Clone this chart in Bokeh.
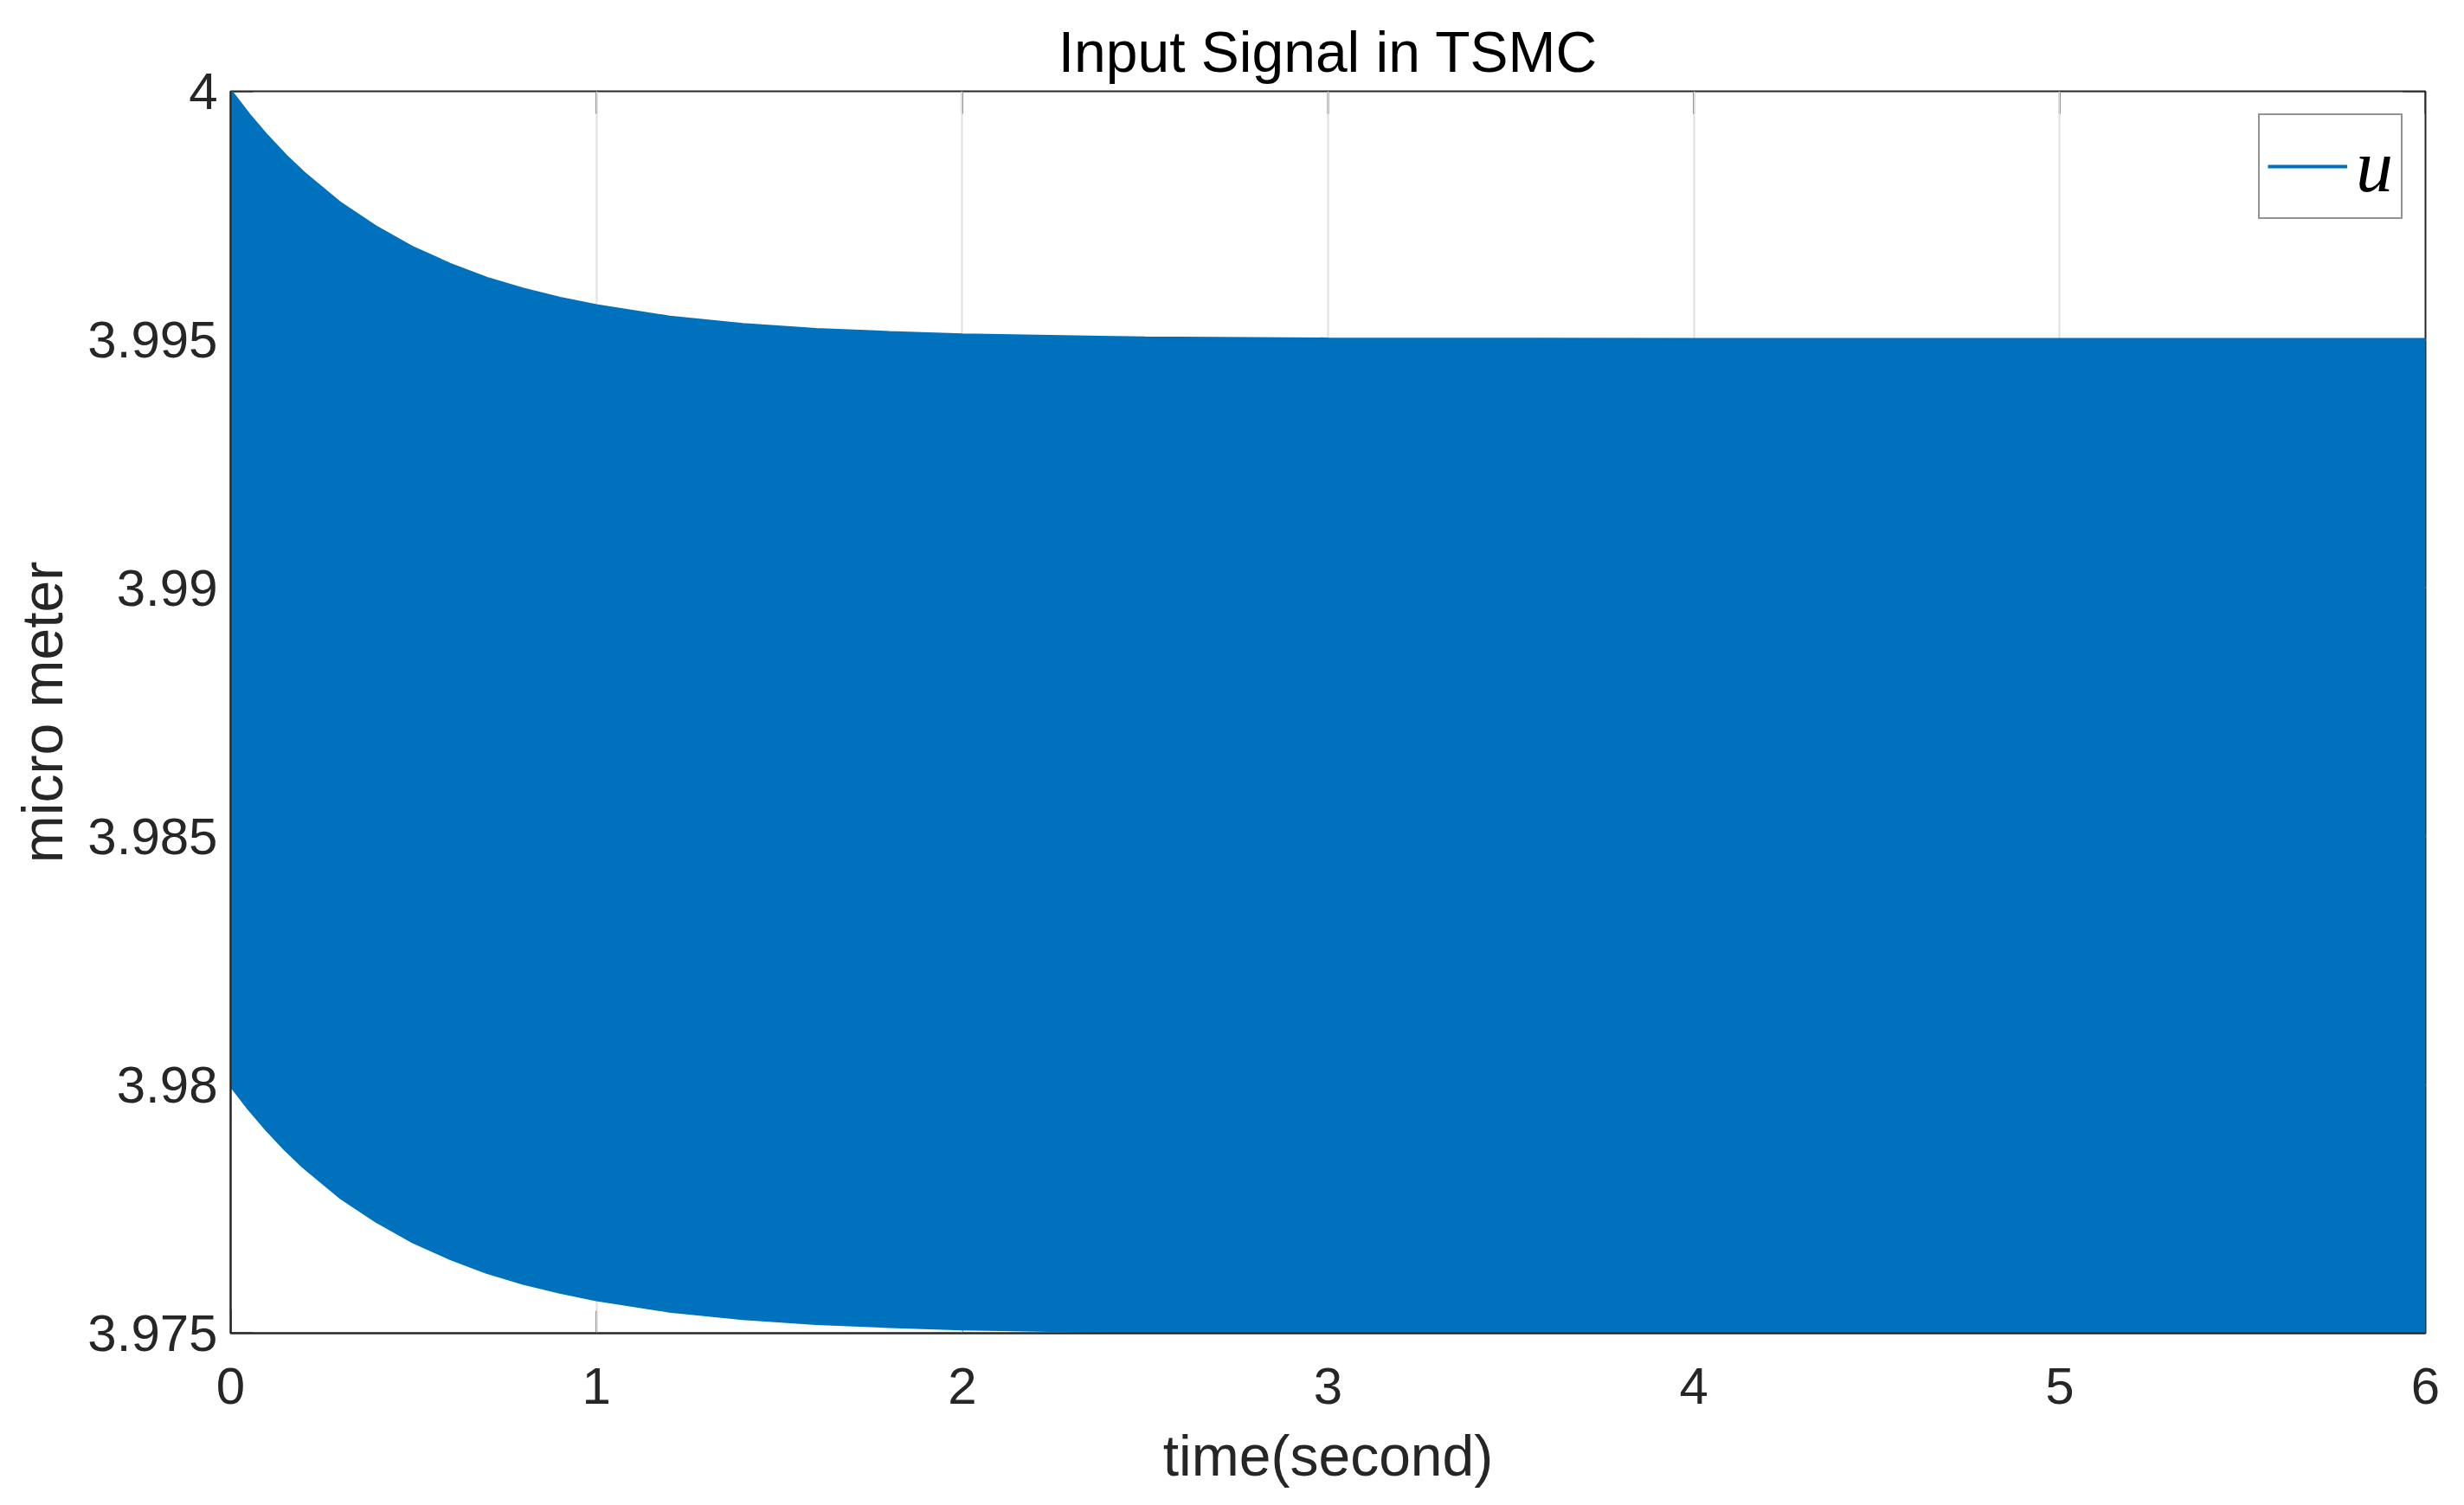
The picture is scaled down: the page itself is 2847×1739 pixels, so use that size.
import math
from bokeh.plotting import figure
from bokeh.models import (Range1d, FixedTicker, Legend, LegendItem,
                          ColumnDataSource)
from bokeh.embed import file_html
from bokeh.resources import INLINE

# ---------------- data ----------------
title_text = "Input Signal in TSMC"
x_label = "time(second)"
y_label = "micro meter"
legend_label = "u"

x_ticks = [0, 1, 2, 3, 4, 5, 6]
y_ticks = [3.975, 3.98, 3.985, 3.99, 3.995, 4.0]
y_tick_labels = ["3.975", "3.98", "3.985", "3.99", "3.995", "4"]

# time samples of the envelope of the (very fast) oscillating input signal
time_s = [0.0, 0.05, 0.1, 0.15, 0.2, 0.3, 0.4, 0.5, 0.6, 0.7, 0.8, 0.9, 1.0,
          1.2, 1.4, 1.6, 1.8, 2.0, 2.5, 3.0, 4.0, 5.0, 6.0]
# upper envelope of u
upper_env = [4.0000, 3.99952, 3.99909, 3.99870, 3.99835, 3.99774, 3.99725,
             3.99684, 3.99651, 3.99623, 3.99601, 3.99583, 3.99568, 3.99545,
             3.99530, 3.99520, 3.99514, 3.99509, 3.99503, 3.99501, 3.99500,
             3.99500, 3.99500]
# lower envelope of u
lower_env = [3.9800, 3.97952, 3.97909, 3.97870, 3.97835, 3.97774, 3.97725,
             3.97684, 3.97651, 3.97623, 3.97601, 3.97583, 3.97568, 3.97545,
             3.97530, 3.97520, 3.97514, 3.97509, 3.97503, 3.97501, 3.97500,
             3.97500, 3.97500]

# ---------------- style ----------------
BLUE = "#0072BD"
DARK = "#262626"
GRID = "#DFDFDF"
FONT = "Liberation Sans"
TICK_LEN = 26

src = ColumnDataSource(dict(t=time_s, hi=upper_env, lo=lower_env))

p = figure(frame_width=2536, frame_height=1435,
           x_range=Range1d(x_ticks[0], x_ticks[-1]),
           y_range=Range1d(y_ticks[0], y_ticks[-1]),
           output_backend="svg", toolbar_location=None,
           min_border_left=266, min_border_right=29,
           min_border_top=105, min_border_bottom=183,
           background_fill_color="white", border_fill_color="white")

p.title.text = title_text
p.title.align = "center"
p.title.text_font = FONT
p.title.text_font_size = "66px"
p.title.text_font_style = "normal"
p.title.text_color = "#000000"
p.title.standoff = 17

p.outline_line_color = DARK
p.outline_line_width = 2

def style_axis(ax, ticks):
    ax.ticker = FixedTicker(ticks=ticks)
    ax.major_tick_in = 0
    ax.major_tick_out = 0
    ax.major_tick_line_color = None
    ax.minor_tick_line_color = None
    ax.axis_line_color = DARK
    ax.axis_line_width = 2
    ax.major_label_text_font = FONT
    ax.major_label_text_color = DARK
    ax.major_label_text_font_size = "60px"
    ax.axis_label_text_font = FONT
    ax.axis_label_text_font_size = "66px"
    ax.axis_label_text_font_style = "normal"
    ax.axis_label_text_color = DARK

xa = p.xaxis[0]
style_axis(xa, x_ticks)
xa.major_label_standoff = 40
xa.axis_label = x_label
xa.axis_label_standoff = 20

ya = p.yaxis[0]
style_axis(ya, y_ticks)
ya.major_label_overrides = {float(k): v for k, v in zip(y_ticks, y_tick_labels)}
ya.major_label_standoff = 15
ya.axis_label = y_label
ya.axis_label_standoff = 12

p.xgrid.ticker = FixedTicker(ticks=x_ticks)
p.ygrid.ticker = FixedTicker(ticks=y_ticks)
for g in (p.xgrid[0], p.ygrid[0]):
    g.grid_line_color = GRID
    g.grid_line_width = 2

# inward ticks on all four edges of the box (drawn below the data, as in MATLAB)
nx, ny = len(x_ticks), len(y_ticks)
tick_style = dict(length=TICK_LEN, length_units="screen", line_color=DARK,
                  line_width=2, level="underlay")
p.ray(x=x_ticks, y=[y_ticks[-1]] * nx, angle=-math.pi / 2, **tick_style)
p.ray(x=x_ticks, y=[y_ticks[0]] * nx, angle=math.pi / 2, **tick_style)
p.ray(x=[x_ticks[-1]] * ny, y=y_ticks, angle=math.pi, **tick_style)
p.ray(x=[x_ticks[0]] * ny, y=y_ticks, angle=0.0, **tick_style)

p.varea(x="t", y1="lo", y2="hi", source=src, fill_color=BLUE, fill_alpha=1.0)
hi_line = p.line(x="t", y="hi", source=src, line_color=BLUE, line_width=4)
p.line(x="t", y="lo", source=src, line_color=BLUE, line_width=4)

legend = Legend(items=[LegendItem(label=legend_label, renderers=[hi_line])],
                location="top_right", margin=26, padding=9, spacing=0,
                glyph_width=92, glyph_height=40, label_standoff=10,
                label_text_font="Liberation Serif",
                label_text_font_style="italic",
                label_text_font_size="86px",
                label_text_color="#000000",
                border_line_color=DARK, border_line_width=2,
                background_fill_color="white", background_fill_alpha=1.0)
p.add_layout(legend)

open("out.html", "w").write(file_html(p, INLINE))
